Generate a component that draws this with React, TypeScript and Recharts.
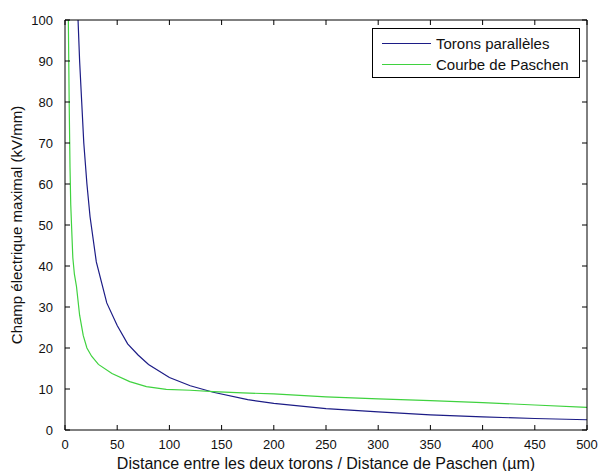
import React from 'react';
import { LineChart, Line, XAxis, YAxis, Legend } from 'recharts';

// values
const xTicks = [0, 50, 100, 150, 200, 250, 300, 350, 400, 450, 500];
const yTicks = [0, 10, 20, 30, 40, 50, 60, 70, 80, 90, 100];

const toronsX = [12.5, 14, 16, 18, 21, 24, 30, 35, 40, 50, 60, 70, 80, 100, 120, 142, 175, 200, 250, 300, 350, 400, 450, 500];
const toronsY = [100, 90, 80, 70, 60, 52, 41, 36, 31, 25.5, 21, 18.3, 16, 12.8, 10.8, 9.2, 7.4, 6.5, 5.2, 4.4, 3.7, 3.2, 2.8, 2.5];

const paschenX = [3.2, 4, 4.8, 5.5, 6.4, 7.5, 9, 11, 14, 17.5, 21, 25.5, 32, 45, 62, 78, 97, 120, 142, 170, 200, 250, 300, 350, 400, 450, 500];
const paschenY = [100, 80, 64, 55, 49, 42, 38, 35, 28, 23, 20, 18, 16, 13.8, 11.8, 10.6, 9.9, 9.7, 9.35, 9.05, 8.8, 8.1, 7.6, 7.15, 6.7, 6.1, 5.5];

const toronsData = toronsX.map((x, i) => ({ x, y: toronsY[i] }));
const paschenData = paschenX.map((x, i) => ({ x, y: paschenY[i] }));

// the second series sits on the top/right axes (same domains) so the box gets drawn
const series = [
  { name: 'Torons parallèles', color: '#1c1c86', data: toronsData, xId: 0, yId: 0 },
  { name: 'Courbe de Paschen', color: '#3fd23f', data: paschenData, xId: 'top', yId: 'right' },
];

const font = '"Liberation Sans", Arial, sans-serif';
const tickStyle = { fill: '#111', fontSize: 13, fontFamily: font };
const noLabel = () => <g />;

const renderLegend = () => (
  <div
    style={{
      width: 208,
      height: 50,
      boxSizing: 'border-box',
      border: '1px solid #000',
      background: '#fff',
      padding: '4px 0 0 9px',
      fontFamily: font,
      fontSize: 15,
      color: '#111',
    }}
  >
    {series.map((s) => (
      <div key={s.name} style={{ display: 'flex', alignItems: 'center', height: 21 }}>
        <span style={{ width: 49, borderTop: `1px solid ${s.color}`, marginRight: 5 }} />
        {s.name}
      </div>
    ))}
  </div>
);

export default function App() {
  return (
    <div style={{ position: 'absolute', left: 0, top: 0, width: 600, height: 471, background: '#fff' }}>
      <LineChart width={600} height={471} margin={{ top: 19, right: 12, bottom: 0, left: 0 }}>
        <XAxis
          type="number"
          dataKey="x"
          domain={[0, 500]}
          ticks={xTicks}
          allowDataOverflow
          stroke="#000"
          tickSize={-5}
          tickMargin={15}
          tick={tickStyle}
          height={41}
          label={{ value: 'Distance entre les deux torons / Distance de Paschen (µm)', position: 'insideBottom', offset: 2, style: { ...tickStyle, fontSize: 16 } }}
        />
        <XAxis
          xAxisId="top"
          orientation="top"
          type="number"
          dataKey="x"
          domain={[0, 500]}
          ticks={xTicks}
          allowDataOverflow
          stroke="#000"
          tickSize={-5}
          tick={noLabel}
          height={1}
        />
        <YAxis
          type="number"
          domain={[0, 100]}
          ticks={yTicks}
          allowDataOverflow
          stroke="#000"
          tickSize={-5}
          tickMargin={17}
          tick={tickStyle}
          width={65}
          label={{ value: 'Champ électrique maximal (kV/mm)', angle: -90, position: 'insideLeft', offset: 17, style: { ...tickStyle, fontSize: 15, textAnchor: 'middle' } }}
        />
        <YAxis
          yAxisId="right"
          orientation="right"
          type="number"
          domain={[0, 100]}
          ticks={yTicks}
          allowDataOverflow
          stroke="#000"
          tickSize={-5}
          tick={noLabel}
          width={1}
        />
        <Legend
          content={renderLegend}
          layout="horizontal"
          align="center"
          verticalAlign="middle"
          wrapperStyle={{ top: 28, left: 372, width: 208 }}
        />
        {series.map((s) => (
          <Line
            key={s.name}
            data={s.data}
            xAxisId={s.xId}
            yAxisId={s.yId}
            dataKey="y"
            name={s.name}
            type="linear"
            stroke={s.color}
            strokeWidth={1.2}
            dot={false}
            isAnimationActive={false}
          />
        ))}
      </LineChart>
    </div>
  );
}
